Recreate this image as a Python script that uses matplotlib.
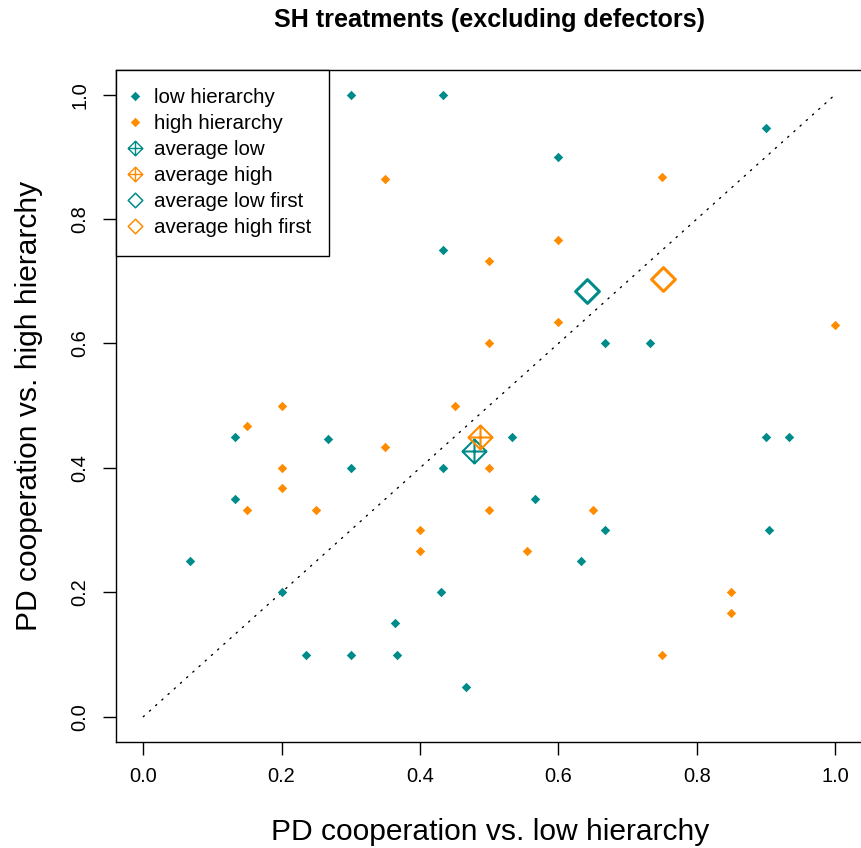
import matplotlib
matplotlib.use("Agg")
import matplotlib.pyplot as plt
from matplotlib.path import Path
from matplotlib.markers import MarkerStyle
from matplotlib.lines import Line2D

plt.rcParams['font.family'] = ['Liberation Sans', 'DejaVu Sans']

# cooperation per subject: low hierarchy (x) vs high hierarchy (y)
low_x = [0.3, 0.433, 0.9, 0.6, 0.433, 0.667, 0.733, 0.133, 0.267, 0.3, 0.133,
         0.533, 0.433, 0.567, 0.667, 0.633, 0.9, 0.933, 0.905, 0.43, 0.364,
         0.367, 0.467, 0.067, 0.2, 0.235, 0.3]
low_y = [1.0, 1.0, 0.947, 0.9, 0.75, 0.6, 0.6, 0.45, 0.446, 0.4, 0.35,
         0.45, 0.4, 0.35, 0.3, 0.25, 0.45, 0.449, 0.3, 0.2, 0.15,
         0.1, 0.047, 0.25, 0.2, 0.1, 0.1]

high_x = [0.35, 0.75, 0.6, 0.5, 0.6, 0.5, 1.0, 0.2, 0.15, 0.35, 0.2, 0.2,
          0.15, 0.25, 0.45, 0.5, 0.5, 0.65, 0.4, 0.4, 0.555, 0.85, 0.85, 0.75]
high_y = [0.864, 0.867, 0.767, 0.733, 0.635, 0.6, 0.63, 0.5, 0.467, 0.433,
          0.4, 0.367, 0.333, 0.333, 0.5, 0.4, 0.333, 0.333, 0.3, 0.267,
          0.267, 0.2, 0.167, 0.1]

avg_low = (0.478, 0.427)
avg_high = (0.487, 0.449)
avg_low_first = (0.642, 0.684)
avg_high_first = (0.751, 0.704)

ticks = [0.0, 0.2, 0.4, 0.6, 0.8, 1.0]
tick_labels = ["0.0", "0.2", "0.4", "0.6", "0.8", "1.0"]

teal = "#008B8B"
orange = "#FF8C00"

# diamond markers (R pch 18 / 5 / 9 look-alikes)
M, L, C = Path.MOVETO, Path.LINETO, Path.CLOSEPOLY
diamond = Path([(0, 1), (1, 0), (0, -1), (-1, 0), (0, 1)], [M, L, L, L, C])
diamond_plus = Path([(0, 1), (1, 0), (0, -1), (-1, 0), (0, 1),
                     (0, 1), (0, -1), (-1, 0), (1, 0)],
                    [M, L, L, L, C, M, L, M, L])
m_dot = MarkerStyle(diamond, joinstyle='miter')
m_open = MarkerStyle(diamond, joinstyle='miter')
m_plus = MarkerStyle(diamond_plus, joinstyle='miter')

fig = plt.figure(figsize=(8.62, 8.48), dpi=100)
ax = fig.add_axes([115.6 / 862, 1 - 741.6 / 848, 747.1 / 862, 671.8 / 848])

ax.plot([0, 1], [0, 1], color='black', lw=1, linestyle=(0, (1, 5)),
        dash_capstyle='round')

ax.plot(low_x, low_y, linestyle='none', marker=m_dot, ms=6.8, mew=0,
        color=teal)
ax.plot(high_x, high_y, linestyle='none', marker=m_dot, ms=6.8, mew=0,
        color=orange)

ax.plot(*avg_low, marker=m_plus, ms=17.3, mew=1.5, mfc='none', mec=teal)
ax.plot(*avg_high, marker=m_plus, ms=17.3, mew=1.5, mfc='none', mec=orange)
ax.plot(*avg_low_first, marker=m_open, ms=17.1, mew=2.2, mfc='none', mec=teal)
ax.plot(*avg_high_first, marker=m_open, ms=17.1, mew=2.2, mfc='none',
        mec=orange)

ax.set_xlim(-0.04, 1.04)
ax.set_ylim(-0.04, 1.04)
ax.set_xticks(ticks, tick_labels)
ax.set_yticks(ticks, tick_labels)
ax.tick_params(direction='out', length=9.6, width=1, labelsize=14.4,
               color='black')
ax.tick_params(axis='x', pad=8.5)
ax.tick_params(axis='y', pad=9.5)
for lab in ax.get_yticklabels():
    lab.set_rotation(90)
    lab.set_va('center')
for sp in ax.spines.values():
    sp.set_linewidth(1)

ax.set_xlabel("PD cooperation vs. low hierarchy", fontsize=21.6)
ax.set_ylabel("PD cooperation vs. high hierarchy", fontsize=21.6)
ax.xaxis.set_label_coords(0.501, -0.114)
ax.yaxis.set_label_coords(-0.097, 0.5)

fig.text(490 / 862, 1 - 20.5 / 848, "SH treatments (excluding defectors)",
         ha='center', va='center', fontsize=18.1, weight='bold')

handles = [
    Line2D([], [], linestyle='none', marker=m_dot, ms=6.8, mew=0, color=teal),
    Line2D([], [], linestyle='none', marker=m_dot, ms=6.8, mew=0, color=orange),
    Line2D([], [], linestyle='none', marker=m_plus, ms=10.5, mew=1.0,
           mfc='none', mec=teal),
    Line2D([], [], linestyle='none', marker=m_plus, ms=10.5, mew=1.0,
           mfc='none', mec=orange),
    Line2D([], [], linestyle='none', marker=m_open, ms=10.5, mew=1.1,
           mfc='none', mec=teal),
    Line2D([], [], linestyle='none', marker=m_open, ms=10.5, mew=1.1,
           mfc='none', mec=orange),
]
labels = ["low hierarchy", "high hierarchy", "average low", "average high",
          "average low first", "average high first"]
leg = ax.legend(handles, labels, loc='upper left', bbox_to_anchor=(0, 1),
                borderaxespad=0, fontsize=14.8, fancybox=False,
                edgecolor='black', framealpha=1, borderpad=0.9,
                handlelength=0.1, handletextpad=0.85, labelspacing=0.34)
leg.get_frame().set_linewidth(1)

fig.savefig("out.png", dpi=100)
